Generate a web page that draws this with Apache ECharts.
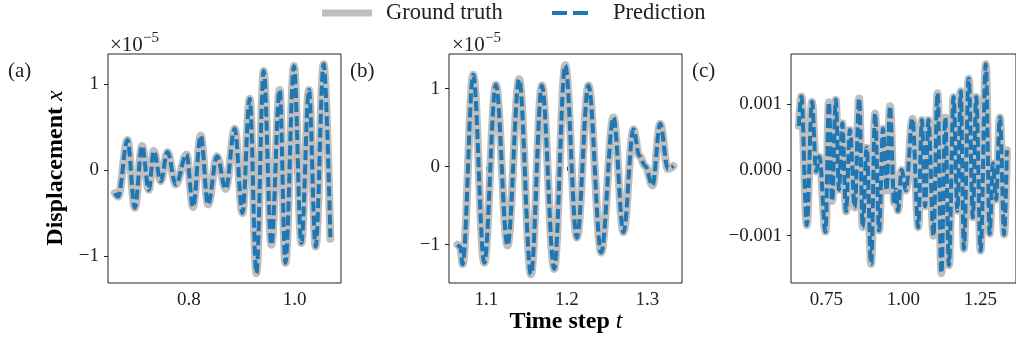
<!DOCTYPE html>
<html><head><meta charset="utf-8">
<script src="https://cdn.jsdelivr.net/npm/echarts@6/dist/echarts.min.js"></script>
<style>html,body{margin:0;padding:0;background:#fff}#c{width:1016px;height:343px}</style>
</head><body><div id="c"></div>
<script>
// ---- data ----
// panel (a): values in units of 1e-5
const tA = [0.6604, 0.6666, 0.6843, 0.6981, 0.7119, 0.7245, 0.7340, 0.7472, 0.7598, 0.7755, 0.7957, 0.8081, 0.8226, 0.8364, 0.8534, 0.8698, 0.8868, 0.9013, 0.9151, 0.9277, 0.9415, 0.9560, 0.9717, 0.9825, 0.9987, 1.0126, 1.0270, 1.0396, 1.0547, 1.0674];
const truthA = [-0.27, -0.31, 0.35, -0.44, 0.28, -0.23, 0.22, -0.13, 0.21, -0.17, 0.18, -0.43, 0.40, -0.40, 0.16, -0.22, 0.48, -0.50, 0.83, -1.20, 1.15, -0.87, 0.93, -1.08, 1.21, -0.85, 0.93, -0.89, 1.23, -0.80];
const predA  = [-0.27, -0.31, 0.35, -0.44, 0.28, -0.23, 0.22, -0.13, 0.21, -0.17, 0.18, -0.43, 0.40, -0.40, 0.16, -0.22, 0.48, -0.50, 0.83, -1.20, 1.15, -0.87, 0.93, -1.08, 1.21, -0.85, 0.93, -0.89, 1.23, -0.78];
// panel (b): values in units of 1e-5
const tB = [1.0641, 1.0675, 1.0704, 1.0836, 1.0973, 1.1118, 1.1262, 1.1407, 1.1553, 1.1689, 1.1842, 1.1979, 1.2124, 1.2268, 1.2426, 1.2579, 1.2703, 1.2827, 1.2898, 1.2973, 1.3063, 1.3159, 1.3255, 1.3324];
const truthB = [-1.00, -1.03, -1.25, 1.18, -1.23, 1.05, -1.01, 1.12, -1.38, 1.04, -1.31, 1.30, -0.91, 1.04, -1.10, 0.63, -0.84, 0.48, 0.14, 0.01, -0.24, 0.55, -0.03, 0.01];
const predB  = [-1.00, -1.03, -1.25, 1.18, -1.23, 1.05, -1.01, 1.12, -1.38, 1.04, -1.31, 1.30, -0.91, 1.04, -1.10, 0.63, -0.84, 0.48, 0.14, 0.01, -0.24, 0.55, -0.03, 0.01];
// panel (c): values in units of 1e-3
const tC = [0.6604, 0.6687, 0.6862, 0.7032, 0.7167, 0.7276, 0.7471, 0.7581, 0.7687, 0.7804,
            0.7910, 0.8014, 0.8139, 0.8265, 0.8422, 0.8563, 0.8682, 0.8808, 0.8955, 0.9081,
            0.9212, 0.9341, 0.9457, 0.9567, 0.9702, 0.9765, 0.9824, 0.9944, 1.0085, 1.0295,
            1.0483, 1.0602, 1.0706, 1.0816, 1.0979, 1.1111, 1.1236, 1.1362, 1.1481, 1.1632,
            1.1757, 1.1864, 1.1967, 1.2124, 1.2259, 1.2366, 1.2510, 1.2680, 1.2805, 1.2909,
            1.3012, 1.3138, 1.3276, 1.3364];
const truthC = [0.67, 1.12, -0.84, 1.04, -0.02, 0.20, -0.94, 1.03, -0.47, 1.07,
                -0.30, 0.71, -0.63, 0.61, -0.57, 1.09, -0.87, 0.34, -1.43, 0.86,
                -0.92, 0.63, -0.31, 0.97, -0.50, -0.30, -0.62, 0.00, -0.31, 0.78,
                -0.87, 0.76, -0.55, 0.76, -1.00, 1.17, -1.57, 0.80, -1.45, 1.11,
                -0.62, 1.20, -1.20, 1.39, -0.72, 1.11, -1.23, 1.61, -0.97, 0.10,
                -0.45, 0.80, -0.98, 0.30];
const predC  = [0.67, 1.12, -0.84, 1.04, -0.02, 0.20, -0.94, 1.03, -0.47, 1.07,
                -0.30, 0.71, -0.63, 0.61, -0.57, 1.09, -0.87, 0.34, -1.43, 0.86,
                -0.92, 0.63, -0.31, 0.97, -0.50, -0.30, -0.62, 0.00, -0.31, 0.78,
                -0.87, 0.76, -0.55, 0.76, -1.00, 1.17, -1.57, 0.80, -1.45, 1.11,
                -0.62, 1.20, -1.20, 1.39, -0.72, 1.11, -1.23, 1.61, -0.97, 0.10,
                -0.45, 0.80, -0.98, 0.30];
// axis ticks
const xTicksA = [0.8, 1.0], yTicksA = [-1, 0, 1];
const xTicksB = [1.1, 1.2, 1.3], yTicksB = [-1, 0, 1];
const xTicksC = [0.75, 1.00, 1.25], yTicksC = [-1, 0, 1];

const pairs = (t, v) => t.map((x, i) => [x, v[i]]);
const FONT = '"Liberation Serif", "DejaVu Serif", serif';
const INK = '#222';
const fmtMinus = s => s.replace('-', '\u2212');

function xAxis(g, min, max, ticks, dec) {
  return { gridIndex: g, type: 'value', min, max,
    axisLine: { show: false },
    axisTick: { show: true, length: 4, customValues: ticks, lineStyle: { color: INK, width: 1 } },
    axisLabel: { customValues: ticks, formatter: v => fmtMinus(v.toFixed(dec)), fontFamily: FONT, fontSize: 19, color: INK, margin: 8 },
    splitLine: { show: false } };
}
function yAxis(g, min, max, ticks, fmt) {
  return { gridIndex: g, type: 'value', min, max,
    axisLine: { show: false },
    axisTick: { show: true, length: 4, customValues: ticks, lineStyle: { color: INK, width: 1 } },
    axisLabel: { customValues: ticks, formatter: v => fmtMinus(fmt(v)), fontFamily: FONT, fontSize: 19, color: INK, margin: 9 },
    splitLine: { show: false } };
}
function seriesPair(i, t, truth, pred) {
  return [
    { type: 'line', xAxisIndex: i, yAxisIndex: i, data: pairs(t, truth), name: 'Ground truth',
      showSymbol: false, smooth: 0.36, smoothMonotone: 'x', silent: true, animation: false,
      lineStyle: { color: '#bfbfbf', width: 8, cap: 'round', join: 'round' }, z: 2 },
    { type: 'line', xAxisIndex: i, yAxisIndex: i, data: pairs(t, pred), name: 'Prediction',
      showSymbol: false, smooth: 0.36, smoothMonotone: 'x', silent: true, animation: false,
      lineStyle: { color: '#1f77b4', width: 4, type: [10, 4] }, z: 3 }
  ];
}

const grids = [
  { left: 108, top: 54, width: 233, height: 229 },
  { left: 449, top: 54, width: 233, height: 229 },
  { left: 791, top: 54, width: 233, height: 229 }
].map(g => Object.assign(g, { show: true, borderColor: INK, borderWidth: 1, backgroundColor: 'transparent' }));

const richTitle = {
  b: { fontFamily: FONT, fontWeight: 'bold', fontSize: 24, color: INK },
  i: { fontFamily: FONT, fontStyle: 'italic', fontSize: 24, color: INK }
};

const chart = echarts.init(document.getElementById('c'), null, { renderer: 'canvas' });
chart.setOption({
  animation: false,
  backgroundColor: '#fff',
  grid: grids,
  xAxis: [
    xAxis(0, 0.6475, 1.0875, xTicksA, 1),
    xAxis(1, 1.0535, 1.3430, xTicksB, 1),
    xAxis(2, 0.6350, 1.3660, xTicksC, 2)
  ],
  yAxis: [
    yAxis(0, -1.314, 1.349, yTicksA, v => String(v)),
    yAxis(1, -1.491, 1.445, yTicksB, v => String(v)),
    yAxis(2, -1.72, 1.766, yTicksC, v => (v / 1000).toFixed(3))
  ],
  series: [].concat(seriesPair(0, tA, truthA, predA), seriesPair(1, tB, truthB, predB), seriesPair(2, tC, truthC, predC)),
  graphic: [
    // legend
    { type: 'line', shape: { x1: 322, y1: 13, x2: 372, y2: 13 }, style: { stroke: '#bfbfbf', lineWidth: 7 } },
    { type: 'text', x: 386, y: 13, style: { text: 'Ground truth', font: '22.5px ' + FONT, fill: INK, verticalAlign: 'middle' } },
    { type: 'line', shape: { x1: 552, y1: 13, x2: 590, y2: 13 }, style: { stroke: '#1f77b4', lineWidth: 4, lineDash: [15, 6] } },
    { type: 'text', x: 613, y: 13, style: { text: 'Prediction', font: '22.5px ' + FONT, fill: INK, verticalAlign: 'middle' } },
    // panel labels
    { type: 'text', x: 8, y: 71, style: { text: '(a)', font: '21px ' + FONT, fill: INK, verticalAlign: 'middle' } },
    { type: 'text', x: 350, y: 71, style: { text: '(b)', font: '21px ' + FONT, fill: INK, verticalAlign: 'middle' } },
    { type: 'text', x: 692, y: 71, style: { text: '(c)', font: '21px ' + FONT, fill: INK, verticalAlign: 'middle' } },
    // offset text
    { type: 'text', x: 110, y: 45, style: { text: '\u00d710', font: '21px ' + FONT, fill: INK, verticalAlign: 'middle' } },
    { type: 'text', x: 143, y: 38, style: { text: '\u22125', font: '15px ' + FONT, fill: INK, verticalAlign: 'middle' } },
    { type: 'text', x: 452, y: 45, style: { text: '\u00d710', font: '21px ' + FONT, fill: INK, verticalAlign: 'middle' } },
    { type: 'text', x: 485, y: 38, style: { text: '\u22125', font: '15px ' + FONT, fill: INK, verticalAlign: 'middle' } },
    // axis titles
    { type: 'text', x: 56, y: 168, rotation: Math.PI / 2,
      style: { text: '{b|Displacement }{i|x}', align: 'center', verticalAlign: 'middle', rich: richTitle } },
    { type: 'text', x: 566, y: 322,
      style: { text: '{b|Time step }{i|t}', align: 'center', verticalAlign: 'middle', rich: richTitle } }
  ]
});
</script></body></html>
